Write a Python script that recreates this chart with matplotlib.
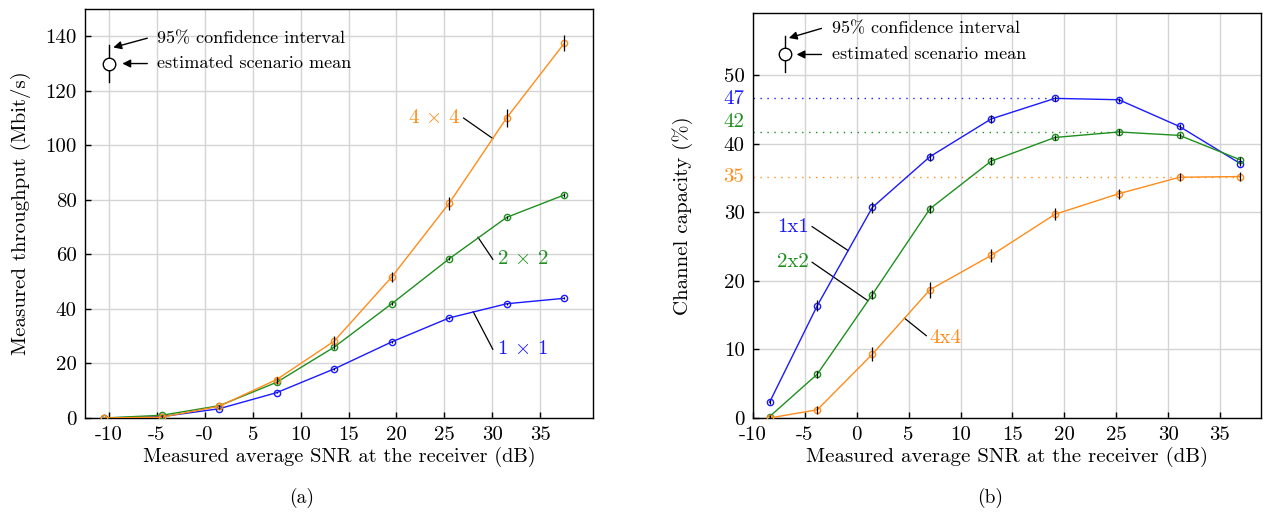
import matplotlib
matplotlib.use("Agg")
import matplotlib.pyplot as plt

plt.rcParams["font.family"] = ["cmr10", "DejaVu Serif"]
plt.rcParams["mathtext.fontset"] = "cm"
plt.rcParams["axes.unicode_minus"] = False
plt.rcParams["axes.formatter.use_mathtext"] = True
plt.rcParams["font.size"] = 14

blue = "#1a1aff"
green = "#1f8f1f"
orange = "#ff8c1a"

# ---- (a) throughput ----
snr_a = [-10.5, -4.5, 1.5, 7.5, 13.5, 19.5, 25.5, 31.5, 37.5]
thr_1x1 = [0.0, 0.5, 3.4, 9.3, 18.0, 27.9, 36.7, 41.9, 43.9]
thr_2x2 = [0.0, 1.0, 4.5, 13.1, 26.0, 41.9, 58.4, 73.6, 81.8]
thr_4x4 = [0.0, 0.3, 4.3, 14.1, 28.2, 51.7, 78.8, 110.1, 137.4]
err_1x1 = [0.1, 0.1, 0.2, 0.3, 0.4, 0.4, 0.4, 0.4, 0.4]
err_2x2 = [0.1, 0.2, 0.3, 0.5, 0.6, 0.6, 0.6, 0.6, 0.6]
err_4x4 = [0.1, 0.2, 0.4, 1.0, 1.8, 2.0, 2.4, 3.2, 2.9]
ticks_a = [-10, -5, 0, 5, 10, 15, 20, 25, 30, 35]
ticklabels_a = ["-10", "-5", "-0", "5", "10", "15", "20", "25", "30", "35"]

# ---- (b) channel capacity ----
snr_b = [-8.4, -3.8, 1.5, 7.05, 12.95, 19.1, 25.25, 31.1, 36.95]
cap_1x1 = [2.3, 16.4, 30.7, 38.1, 43.6, 46.6, 46.4, 42.5, 37.1]
cap_2x2 = [0.2, 6.4, 18.0, 30.5, 37.45, 40.9, 41.7, 41.2, 37.65]
cap_4x4 = [0.0, 1.2, 9.3, 18.7, 23.7, 29.7, 32.7, 35.1, 35.2]
cerr_1x1 = [0.3, 0.8, 0.8, 0.6, 0.6, 0.4, 0.3, 0.3, 0.3]
cerr_2x2 = [0.2, 0.5, 0.6, 0.6, 0.6, 0.4, 0.4, 0.4, 0.4]
cerr_4x4 = [0.2, 0.6, 1.0, 1.2, 0.9, 0.9, 0.7, 0.6, 0.6]
ticks_b = [-10, -5, 0, 5, 10, 15, 20, 25, 30, 35]
ticklabels_b = ["-10", "-5", "0", "5", "10", "15", "20", "25", "30", "35"]
peaks = [46.6, 41.7, 35.1]
peak_x_end = [19.1, 25.25, 36.95]
peak_labels = ["47", "42", "35"]
peak_label_y = [46.5, 43.2, 35.1]

fig = plt.figure(figsize=(12.63, 5.12), dpi=100)
ax1 = fig.add_axes([0.0673, 0.1836, 0.4022, 0.7988])
ax2 = fig.add_axes([0.5962, 0.1836, 0.4026, 0.7904])


def draw_series(ax, x, y, e, color):
    ax.plot(x, y, color=color, lw=1.0, marker="o", ms=4.5, mfc="none",
            mec=color, mew=1.0, zorder=3)
    ax.errorbar(x, y, yerr=e, fmt="none", ecolor="black", elinewidth=0.9,
                capsize=0, zorder=4)


def style(ax):
    ax.grid(True, color="#d4d4d4", lw=1.0)
    ax.set_axisbelow(True)
    ax.tick_params(direction="in", length=4, width=1, top=False, right=False,
                   labelsize=15, pad=6)
    for s in ax.spines.values():
        s.set_linewidth(1.0)


def ci_legend(ax, x, y_lo, y_hi, y_mid, tx, ty1, ty2, head1, head2):
    ax.plot([x, x], [y_lo, y_hi], color="black", lw=1.0, zorder=5)
    ax.plot([x], [y_mid], marker="o", ms=9, mfc="white", mec="black",
            mew=1.0, zorder=6)
    ax.annotate("", xy=head1, xytext=(tx - 1.0, ty1),
                arrowprops=dict(arrowstyle="-|>", color="black", lw=1.0,
                                mutation_scale=12, shrinkA=0, shrinkB=0))
    ax.annotate("", xy=head2, xytext=(tx - 1.0, ty2),
                arrowprops=dict(arrowstyle="-|>", color="black", lw=1.0,
                                mutation_scale=12, shrinkA=0, shrinkB=0))
    ax.text(tx, ty1, "95% confidence interval", fontsize=13, va="center")
    ax.text(tx, ty2, "estimated scenario mean", fontsize=13, va="center")


# (a)
draw_series(ax1, snr_a, thr_1x1, err_1x1, blue)
draw_series(ax1, snr_a, thr_2x2, err_2x2, green)
draw_series(ax1, snr_a, thr_4x4, err_4x4, orange)
style(ax1)
ax1.set_xlim(-12.5, 40.5)
ax1.set_ylim(0, 150)
ax1.set_xticks(ticks_a)
ax1.set_xticklabels(ticklabels_a)
ax1.set_yticks([0, 20, 40, 60, 80, 100, 120, 140])
ax1.set_yticklabels(["0", "20", "40", "60", "80", "100", "120", "140"])
ax1.set_xlabel("Measured average SNR at the receiver (dB)", fontsize=14.7, labelpad=2)
ax1.set_ylabel("Measured throughput (Mbit/s)", fontsize=15, labelpad=10)
ci_legend(ax1, -10, 123.2, 136.7, 130, -5.0, 139.3, 130,
          (-9.55, 135.9), (-8.6, 130))

ax1.plot([27.0, 30.05], [110.0, 102.5], color="black", lw=0.9)
ax1.text(26.7, 110.0, r"4 $\times$ 4", color=orange, fontsize=15, ha="right", va="center")
ax1.plot([30.05, 28.5], [58.2, 66.3], color="black", lw=0.9)
ax1.text(30.5, 58.2, r"2 $\times$ 2", color=green, fontsize=15, ha="left", va="center")
ax1.plot([30.05, 28.0], [25.2, 39.0], color="black", lw=0.9)
ax1.text(30.5, 25.2, r"1 $\times$ 1", color=blue, fontsize=15, ha="left", va="center")

# (b)
for pk, xe, c in zip(peaks, peak_x_end, [blue, green, orange]):
    ax2.hlines(pk, -10, xe, colors=c, linestyles=(0, (1, 4)), lw=1.0, zorder=2)
draw_series(ax2, snr_b, cap_1x1, cerr_1x1, blue)
draw_series(ax2, snr_b, cap_2x2, cerr_2x2, green)
draw_series(ax2, snr_b, cap_4x4, cerr_4x4, orange)
style(ax2)
ax2.set_xlim(-10, 39)
ax2.set_ylim(0, 59)
ax2.set_xticks(ticks_b)
ax2.set_xticklabels(ticklabels_b)
ax2.set_yticks([0, 10, 20, 30, 40, 50])
ax2.set_yticklabels(["0", "10", "20", "30", "40", "50"])
for lab, yy, c in zip(peak_labels, peak_label_y, [blue, green, orange]):
    ax2.text(-0.018, yy, lab, color=c, fontsize=15, ha="right", va="center",
             transform=ax2.get_yaxis_transform())
ax2.set_xlabel("Measured average SNR at the receiver (dB)", fontsize=15, labelpad=2)
ax2.set_ylabel("Channel capacity (%)", fontsize=15, labelpad=22)
ci_legend(ax2, -6.9, 50.4, 55.7, 53.0, -2.4, 56.8, 53.0,
          (-6.55, 55.4), (-5.8, 53.0))

ax2.plot([-4.3, -0.82], [27.9, 24.4], color="black", lw=0.9)
ax2.text(-4.6, 27.9, "1x1", color=blue, fontsize=15, ha="right", va="center")
ax2.plot([-4.3, 1.08], [22.7, 17.1], color="black", lw=0.9)
ax2.text(-4.6, 22.7, "2x2", color=green, fontsize=15, ha="right", va="center")
ax2.plot([6.7, 4.6], [12.0, 14.55], color="black", lw=0.9)
ax2.text(7.0, 11.7, "4x4", color=orange, fontsize=15, ha="left", va="center")

fig.text(0.239, 0.027, "(a)", fontsize=14, ha="center", va="center")
fig.text(0.784, 0.027, "(b)", fontsize=14, ha="center", va="center")

fig.savefig("out.png", dpi=100)
